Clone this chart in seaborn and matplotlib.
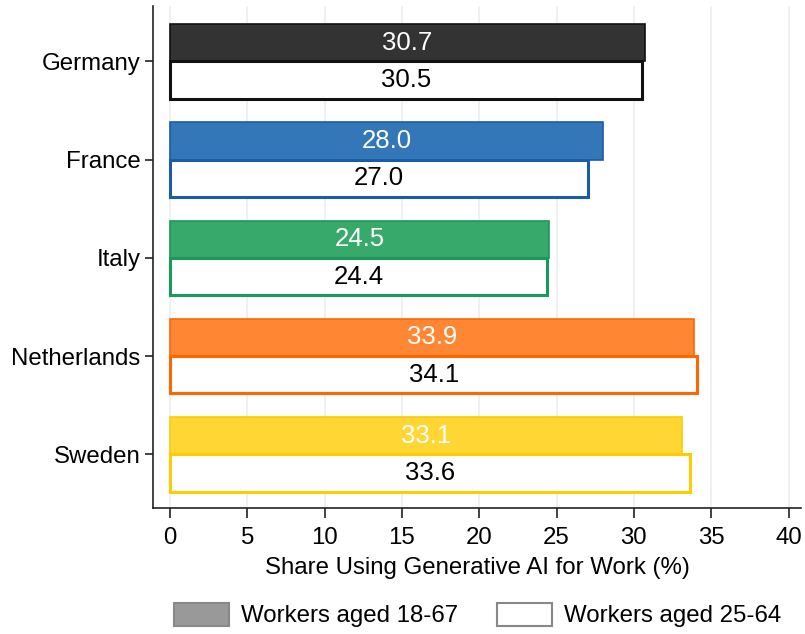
import matplotlib
matplotlib.use("Agg")
import matplotlib.pyplot as plt
import matplotlib.patches as mpatches
import seaborn as sns
import pandas as pd

countries = ["Germany", "France", "Italy", "Netherlands", "Sweden"]
share_18_67 = [30.7, 28.0, 24.5, 33.9, 33.1]
share_25_64 = [30.5, 27.0, 24.4, 34.1, 33.6]
groups = ["Workers aged 18-67", "Workers aged 25-64"]

fill_colors = ["#333333", "#3477b9", "#36a96b", "#ff8733", "#ffd633"]
edge_colors = ["#111111", "#1a5ca8", "#1a9a5a", "#ff6600", "#ffcc00"]

df = pd.DataFrame({
    "country": countries * 2,
    "share": share_18_67 + share_25_64,
    "group": [groups[0]] * 5 + [groups[1]] * 5,
})

sns.set_style("white")
plt.rcParams["font.family"] = ["Liberation Sans", "DejaVu Sans"]

fig, ax = plt.subplots(figsize=(8.05, 6.34), dpi=100)
fig.subplots_adjust(left=0.19, right=0.995, top=0.99, bottom=0.198)

sns.barplot(data=df, y="country", x="share", hue="group", order=countries,
            hue_order=groups, width=0.76, ax=ax, legend=False)

# first container = filled bars, second = outlined bars
filled, outlined = ax.containers[0], ax.containers[1]
for i, patch in enumerate(filled.patches):
    patch.set_facecolor(fill_colors[i])
    patch.set_edgecolor(edge_colors[i])
    patch.set_linewidth(1.2)
for i, patch in enumerate(outlined.patches):
    patch.set_facecolor("white")
    patch.set_edgecolor(edge_colors[i])
    patch.set_linewidth(2.2)

ax.bar_label(filled, labels=[f"{v:.1f}" for v in share_18_67], label_type="center",
             color="white", fontsize=18.5)
ax.bar_label(outlined, labels=[f"{v:.1f}" for v in share_25_64], label_type="center",
             color="black", fontsize=18.5)

ax.set_xlim(-1.1, 40.8)
ax.set_ylim(4.55, -0.56)
ax.set_xticks(range(0, 45, 5))
ax.grid(axis="x", color="#eeeeee", linewidth=1.2)
ax.set_axisbelow(True)
for s in ["top", "right"]:
    ax.spines[s].set_visible(False)
for s in ["left", "bottom"]:
    ax.spines[s].set_color("#222222")
    ax.spines[s].set_linewidth(1.2)
ax.tick_params(axis="both", which="both", direction="out", length=7, width=1.2,
               color="#222222", labelcolor="black", labelsize=17.3,
               bottom=True, left=True)
ax.tick_params(axis="x", pad=6)
ax.tick_params(axis="y", length=6, pad=3)
ax.set_xlabel("Share Using Generative AI for Work (%)", fontsize=17.3,
              color="black", labelpad=6)
ax.set_ylabel("")

handles = [
    mpatches.Patch(facecolor="#999999", edgecolor="#888888", linewidth=1.5, label=groups[0]),
    mpatches.Patch(facecolor="white", edgecolor="#888888", linewidth=1.5, label=groups[1]),
]
fig.legend(handles=handles, loc="center", bbox_to_anchor=(0.593, 0.03), ncol=2,
           frameon=False, fontsize=17.3, labelcolor="black", handlelength=2.3,
           handleheight=1.1, columnspacing=1.6, handletextpad=0.5)

fig.savefig("out.png", dpi=100)
